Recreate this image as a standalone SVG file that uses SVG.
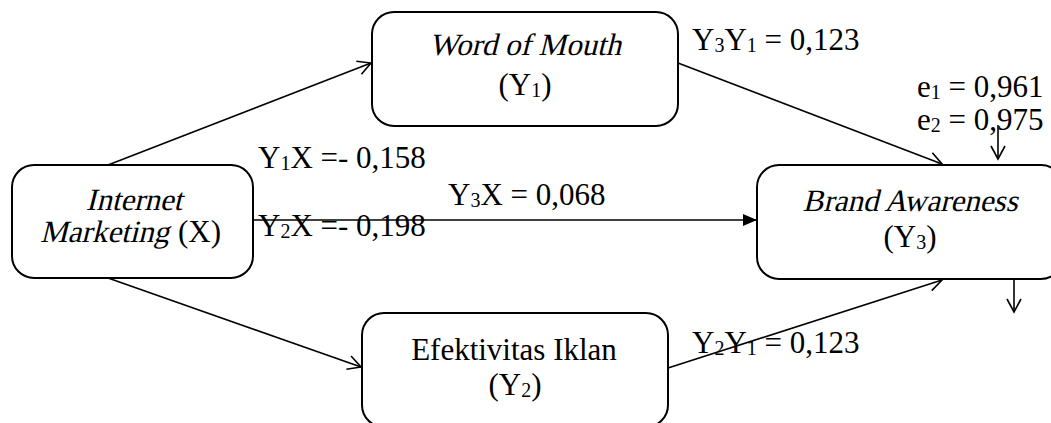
<svg xmlns="http://www.w3.org/2000/svg" width="1051" height="423" viewBox="0 0 1051 423">
  <style>
    .box { fill: #ffffff; stroke: #000000; stroke-width: 2; }
    .t { font-family: "Liberation Serif", "Times New Roman", serif; font-size: 31px; fill: #000000; }
    .c { text-anchor: middle; }
    .sub { font-size: 20px; }
    .edge { stroke: #000000; stroke-width: 1.6; fill: none; }
  </style>
  <defs>
    <marker id="open" viewBox="-14 -9 16 18" refX="0" refY="0" markerWidth="16" markerHeight="18" markerUnits="userSpaceOnUse" orient="auto">
      <path d="M-13,-7 L0,0 L-13,7" fill="none" stroke="#000000" stroke-width="1.6"/>
    </marker>
    <marker id="solid" viewBox="-15 -7 16 14" refX="0" refY="0" markerWidth="16" markerHeight="14" markerUnits="userSpaceOnUse" orient="auto">
      <path d="M-14,-6 L0,0 L-14,6 Z" fill="#000000"/>
    </marker>
  </defs>

  <!-- path coefficient labels -->
  <g id="labels">
    <text class="t" x="692" y="50">Y<tspan class="sub" dy="2">3</tspan><tspan dy="-2">Y</tspan><tspan class="sub" dy="2">1</tspan><tspan dy="-2"> = 0,123</tspan></text>
    <text class="t" x="917" y="97">e<tspan class="sub" dy="2">1</tspan><tspan dy="-2"> = 0,961</tspan></text>
    <text class="t" x="917" y="130">e<tspan class="sub" dy="2">2</tspan><tspan dy="-2"> = 0,975</tspan></text>
    <text class="t" x="258" y="168">Y<tspan class="sub" dy="2">1</tspan><tspan dy="-2">X =- 0,158</tspan></text>
    <text class="t" x="448" y="205">Y<tspan class="sub" dy="2">3</tspan><tspan dy="-2">X = 0,068</tspan></text>
    <text class="t" x="258" y="236">Y<tspan class="sub" dy="2">2</tspan><tspan dy="-2">X =- 0,198</tspan></text>
    <text class="t" x="692" y="353">Y<tspan class="sub" dy="2">2</tspan><tspan dy="-2">Y</tspan><tspan class="sub" dy="2">1</tspan><tspan dy="-2"> = 0,123</tspan></text>
  </g>

  <!-- connectors -->
  <g id="connectors">
    <line class="edge" x1="108" y1="165" x2="371" y2="63" marker-end="url(#open)"/>
    <line class="edge" x1="108" y1="278" x2="361" y2="367" marker-end="url(#open)"/>
    <line class="edge" x1="253" y1="220" x2="757" y2="220" marker-end="url(#solid)"/>
    <line class="edge" x1="678" y1="63" x2="942" y2="164" marker-end="url(#open)"/>
    <line class="edge" x1="668" y1="368" x2="942" y2="280" marker-end="url(#open)"/>
    <line class="edge" x1="998" y1="125" x2="998" y2="159" marker-end="url(#open)"/>
    <line class="edge" x1="1014" y1="275" x2="1014" y2="312" marker-end="url(#open)"/>
  </g>

  <!-- slanted serif words are drawn with a skew so they keep the serif face -->
  <g id="internet-marketing">
    <rect class="box" x="12" y="165" width="241" height="113" rx="22"/>
    <text class="t c" transform="translate(134 210) skewX(-14)">Internet</text>
    <text class="t" transform="translate(40 242) skewX(-14)">Marketing</text>
    <text class="t" x="178" y="242">(X)</text>
  </g>

  <g id="word-of-mouth">
    <rect class="box" x="372" y="12" width="306" height="114" rx="22"/>
    <text class="t c" transform="translate(525 55) skewX(-14)">Word of Mouth</text>
    <text class="t c" x="525" y="95">(Y<tspan class="sub" dy="2">1</tspan><tspan dy="-2">)</tspan></text>
  </g>

  <g id="efektivitas-iklan">
    <rect class="box" x="362" y="313" width="306" height="114" rx="22"/>
    <text class="t c" x="514" y="360">Efektivitas Iklan</text>
    <text class="t c" x="515" y="395">(Y<tspan class="sub" dy="2">2</tspan><tspan dy="-2">)</tspan></text>
  </g>

  <g id="brand-awareness">
    <rect class="box" x="757" y="165" width="306" height="114" rx="22"/>
    <text class="t c" transform="translate(910 211) skewX(-14)">Brand Awareness</text>
    <text class="t c" x="910" y="247">(Y<tspan class="sub" dy="2">3</tspan><tspan dy="-2">)</tspan></text>
  </g>
</svg>
